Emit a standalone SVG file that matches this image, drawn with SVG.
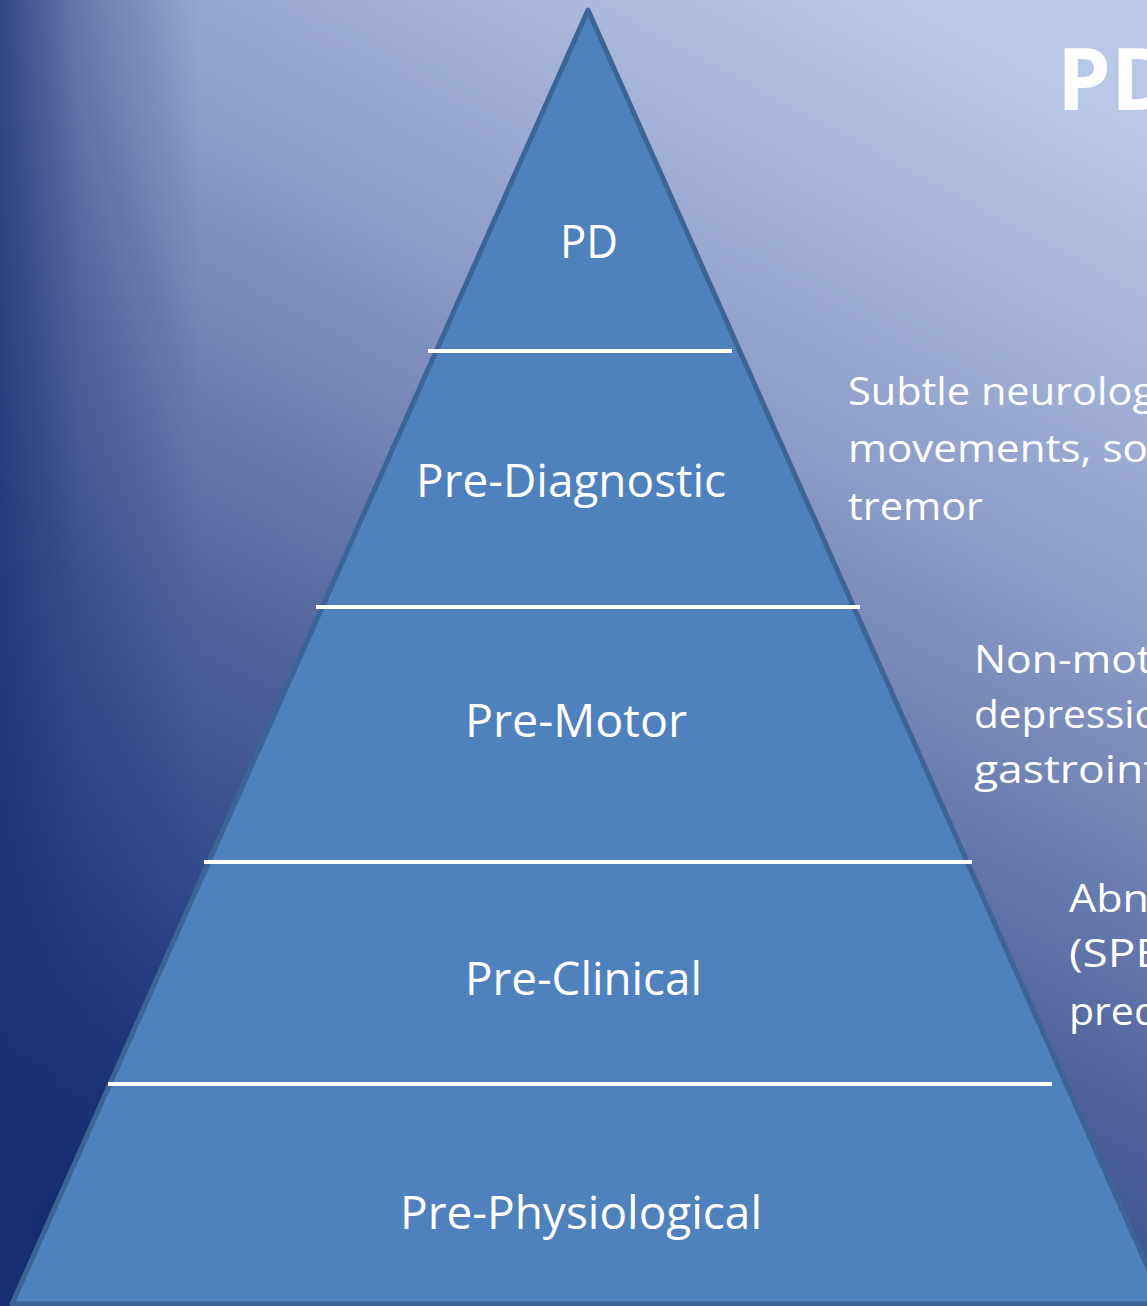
<svg xmlns="http://www.w3.org/2000/svg" width="1147" height="1306" viewBox="0 0 1147 1306">
  <defs>
    <linearGradient id="bg" x1="200" y1="1306" x2="900" y2="0" gradientUnits="userSpaceOnUse">
      <stop offset="0" stop-color="#0e2766"/>
      <stop offset="0.2" stop-color="#2a4285"/>
      <stop offset="0.4" stop-color="#4c6199"/>
      <stop offset="0.7" stop-color="#8c9bc7"/>
      <stop offset="1" stop-color="#bac8e8"/>
    </linearGradient>
    <linearGradient id="edge" x1="0" y1="0" x2="200" y2="0" gradientUnits="userSpaceOnUse">
      <stop offset="0" stop-color="#1a3272" stop-opacity="0.8"/>
      <stop offset="0.4" stop-color="#1a3272" stop-opacity="0.35"/>
      <stop offset="1" stop-color="#1a3272" stop-opacity="0"/>
    </linearGradient>
    <style>
      .lbl { font-family: "Open Sans", "Liberation Sans", sans-serif; fill: #ffffff; font-size: 46px; }
      .side { font-family: "Open Sans", "Liberation Sans", sans-serif; fill: #ffffff; font-size: 38px; }
      .sep { stroke: #ffffff; stroke-width: 4; }
    </style>
  </defs>
  <rect x="0" y="0" width="1147" height="1306" fill="url(#bg)"/>
  <rect x="0" y="0" width="200" height="1306" fill="url(#edge)"/>

  <g id="title">
    <text x="1057" y="110" font-family="Open Sans, Liberation Sans, sans-serif" font-weight="bold" font-size="86" fill="#ffffff">PD</text>
  </g>

  <g id="pyramid">
    <polygon points="588,10 12,1304 1164,1304" fill="#4f81bd" stroke="#3c6596" stroke-width="5" stroke-linejoin="round"/>
  </g>

  <g id="connectors">
    <line class="sep" x1="428" y1="351" x2="732" y2="351"/>
    <line class="sep" x1="316" y1="607" x2="860" y2="607"/>
    <line class="sep" x1="204" y1="862" x2="972" y2="862"/>
    <line class="sep" x1="108" y1="1084" x2="1052" y2="1084"/>
  </g>

  <g id="level-pd"><text class="lbl" x="560" y="258" textLength="58" lengthAdjust="spacingAndGlyphs">PD</text></g>
  <g id="level-prediagnostic"><text class="lbl" x="416" y="497" textLength="310" lengthAdjust="spacingAndGlyphs">Pre-Diagnostic</text></g>
  <g id="level-premotor"><text class="lbl" x="465" y="737" textLength="222" lengthAdjust="spacingAndGlyphs">Pre-Motor</text></g>
  <g id="level-preclinical"><text class="lbl" x="465" y="995" textLength="237" lengthAdjust="spacingAndGlyphs">Pre-Clinical</text></g>
  <g id="level-prephysiological"><text class="lbl" x="400" y="1229" textLength="362" lengthAdjust="spacingAndGlyphs">Pre-Physiological</text></g>

  <g id="note-prediagnostic">
    <text class="side" x="848" y="405" textLength="307" lengthAdjust="spacingAndGlyphs">Subtle neurolog</text>
    <text class="side" x="848" y="462" textLength="314" lengthAdjust="spacingAndGlyphs">movements, sof</text>
    <text class="side" x="848" y="520" textLength="135" lengthAdjust="spacingAndGlyphs">tremor</text>
  </g>
  <g id="note-premotor">
    <text class="side" x="974" y="673" textLength="178" lengthAdjust="spacingAndGlyphs">Non-mot</text>
    <text class="side" x="974" y="728" textLength="185" lengthAdjust="spacingAndGlyphs">depressio</text>
    <text class="side" x="974" y="783" textLength="185" lengthAdjust="spacingAndGlyphs">gastroint</text>
  </g>
  <g id="note-preclinical">
    <text class="side" x="1069" y="912" textLength="80" lengthAdjust="spacingAndGlyphs">Abn</text>
    <text class="side" x="1069" y="967" textLength="92" lengthAdjust="spacingAndGlyphs">(SPE</text>
    <text class="side" x="1069" y="1025" textLength="90" lengthAdjust="spacingAndGlyphs">pred</text>
  </g>
</svg>
